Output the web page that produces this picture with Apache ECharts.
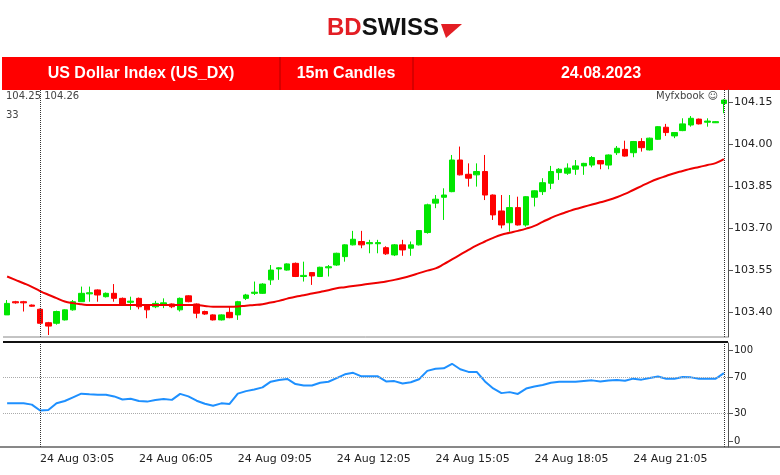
<!DOCTYPE html>
<html>
<head>
<meta charset="utf-8">
<script src="https://cdn.jsdelivr.net/npm/echarts@6/dist/echarts.min.js"></script>
<style>html,body{margin:0;padding:0;background:#fff}#main{width:780px;height:475px}</style>
</head>
<body>
<div id="main"></div>
<script>
// 15m candles, 24 Aug 02:05 .. 23:50 ; each [open, close, low, high]
var times = [];
for (var i = 0; i < 88; i++) {
    var m = 2 * 60 + 5 + i * 15;
    times.push('24 Aug ' + String(Math.floor(m / 60)).padStart(2, '0') + ':' + String(m % 60).padStart(2, '0'));
}
var candles = [
    [103.390,103.431,103.390,103.443],[103.437,103.433,103.430,103.440],[103.437,103.433,103.402,103.440],[103.425,103.421,103.419,103.427],
    [103.410,103.360,103.360,103.412],[103.362,103.350,103.318,103.365],[103.360,103.402,103.355,103.405],[103.372,103.408,103.370,103.410],
    [103.408,103.437,103.405,103.443],[103.437,103.467,103.437,103.491],[103.465,103.469,103.437,103.491],[103.479,103.461,103.437,103.481],
    [103.455,103.467,103.452,103.470],[103.467,103.449,103.437,103.500],[103.449,103.429,103.427,103.452],[103.435,103.439,103.408,103.455],
    [103.449,103.419,103.410,103.452],[103.425,103.408,103.378,103.427],[103.419,103.431,103.414,103.440],[103.429,103.433,103.414,103.449],
    [103.429,103.419,103.414,103.431],[103.408,103.449,103.402,103.452],[103.458,103.437,103.435,103.460],[103.429,103.396,103.378,103.431],
    [103.402,103.393,103.390,103.405],[103.390,103.372,103.370,103.392],[103.372,103.390,103.370,103.392],[103.399,103.380,103.378,103.419],
    [103.390,103.437,103.372,103.440],[103.449,103.461,103.443,103.465],[103.467,103.471,103.461,103.509],[103.467,103.500,103.465,103.503],
    [103.515,103.550,103.497,103.568],[103.554,103.558,103.515,103.560],[103.550,103.572,103.548,103.574],[103.574,103.527,103.525,103.577],
    [103.527,103.531,103.509,103.580],[103.541,103.529,103.497,103.543],[103.527,103.560,103.525,103.562],[103.558,103.562,103.527,103.568],
    [103.568,103.610,103.565,103.612],[103.598,103.640,103.580,103.642],[103.640,103.660,103.638,103.690],[103.652,103.640,103.628,103.690],
    [103.644,103.648,103.610,103.658],[103.644,103.648,103.610,103.658],[103.630,103.608,103.604,103.635],[103.604,103.640,103.600,103.643],
    [103.640,103.622,103.601,103.658],[103.628,103.640,103.601,103.652],[103.640,103.691,103.638,103.693],[103.684,103.783,103.680,103.787],
    [103.789,103.803,103.771,103.818],[103.810,103.818,103.729,103.842],[103.830,103.943,103.828,103.961],[103.943,103.890,103.888,103.991],
    [103.892,103.878,103.848,103.931],[103.890,103.902,103.848,103.931],[103.902,103.818,103.800,103.961],[103.818,103.747,103.729,103.820],
    [103.761,103.711,103.699,103.818],[103.719,103.773,103.687,103.818],[103.773,103.711,103.709,103.812],[103.711,103.812,103.705,103.814],
    [103.810,103.833,103.777,103.835],[103.830,103.862,103.818,103.878],[103.860,103.902,103.839,103.922],[103.898,103.910,103.872,103.914],
    [103.896,103.914,103.890,103.931],[103.910,103.922,103.890,103.943],[103.922,103.931,103.890,103.933],[103.925,103.952,103.917,103.957],
    [103.941,103.929,103.910,103.943],[103.925,103.961,103.910,103.963],[103.969,103.985,103.961,103.993],[103.981,103.957,103.955,104.012],
    [103.969,104.009,103.953,104.011],[104.009,103.987,103.973,104.021],[103.979,104.021,103.977,104.023],[104.017,104.062,104.015,104.064],
    [104.060,104.041,104.029,104.072],[104.029,104.041,104.021,104.043],[104.048,104.072,104.046,104.092],[104.068,104.092,104.062,104.100],
    [104.089,104.072,104.070,104.091],[104.078,104.082,104.062,104.092],[104.076,104.080,104.075,104.082],[104.145,104.157,104.110,104.160]
];
var maLine = [103.527,103.515,103.503,103.490,103.475,103.462,103.450,103.438,103.432,103.428,103.425,103.425,103.425,103.425,103.425,103.425,
    103.425,103.425,103.425,103.425,103.425,103.425,103.425,103.425,103.422,103.419,103.419,103.419,103.420,103.423,103.425,103.428,
    103.434,103.440,103.448,103.455,103.460,103.466,103.472,103.478,103.485,103.489,103.493,103.497,103.501,103.505,103.509,103.515,
    103.522,103.530,103.539,103.548,103.556,103.571,103.588,103.605,103.622,103.638,103.652,103.665,103.676,103.683,103.690,103.698,
    103.708,103.722,103.736,103.748,103.758,103.768,103.776,103.784,103.792,103.800,103.810,103.822,103.836,103.850,103.864,103.876,
    103.886,103.896,103.904,103.912,103.918,103.925,103.932,103.946];
var rsi = [41.4,41.4,41.4,40,33.6,34,41.5,44,48,52,51.3,50.8,50.8,49,45.6,46.5,44,43.3,45,46.2,45.2,51.8,49,44.3,40.9,38.8,41.4,40.8,
    52.1,54.8,56.6,58.9,65.2,67,68.2,62.5,60.9,60.9,64,65.1,69,73.2,74.9,71,71,71,65.4,65.8,63.2,64.5,67.8,77,79.4,79.8,84.8,78.8,
    75.9,75.9,65.4,57.8,52.6,53.7,51.7,57.6,59.8,61.5,64,65.1,65.1,65.1,65.9,66.6,65.3,66.5,67,66.1,68.5,67.4,69.3,70.8,68.4,68.4,
    70.4,69.9,68.4,68.4,68.4,74.5];
var priceTicks = [103.40, 103.55, 103.70, 103.85, 104.00, 104.15];
var rsiTicks = [0, 30, 70, 100];

var chart = echarts.init(document.getElementById('main'));
var axFont = {fontFamily: 'DejaVu Sans', fontSize: 10, color: '#222'};
var option = {
    backgroundColor: '#fff',
    animation: false,
    graphic: [
        {type: 'text', left: 327, top: 16, style: {text: '{r|BD}{k|SWISS}',
            rich: {r: {font: 'bold 24px Liberation Sans', fill: '#e31e24'}, k: {font: 'bold 24px Liberation Sans', fill: '#111'}}}},
        {type: 'polygon', shape: {points: [[441, 24], [462, 24], [446, 38]]}, style: {fill: '#e31e24'}},
        {type: 'rect', shape: {x: 2, y: 57, width: 778, height: 33}, style: {fill: '#ff0000'}},
        {type: 'line', shape: {x1: 280, y1: 57, x2: 280, y2: 90}, style: {stroke: '#b00000', lineWidth: 1}},
        {type: 'line', shape: {x1: 413, y1: 57, x2: 413, y2: 90}, style: {stroke: '#b00000', lineWidth: 1}},
        {type: 'text', x: 141, y: 74, style: {text: 'US Dollar Index (US_DX)', font: 'bold 16px Liberation Sans', fill: '#fff', align: 'center', verticalAlign: 'middle'}},
        {type: 'text', x: 346, y: 74, style: {text: '15m Candles', font: 'bold 16px Liberation Sans', fill: '#fff', align: 'center', verticalAlign: 'middle'}},
        {type: 'text', x: 601, y: 74, style: {text: '24.08.2023', font: 'bold 16px Liberation Sans', fill: '#fff', align: 'center', verticalAlign: 'middle'}},
        {type: 'text', left: 6, top: 91, style: {text: '104.25 104.26', font: '10px DejaVu Sans', fill: '#444'}},
        {type: 'text', left: 6, top: 110, style: {text: '33', font: '10px DejaVu Sans', fill: '#444'}},
        {type: 'text', left: 656, top: 91, style: {text: 'Myfxbook ☺', font: '10px DejaVu Sans', fill: '#444'}},
        {type: 'line', shape: {x1: 3, y1: 337, x2: 728, y2: 337}, style: {stroke: '#888', lineWidth: 1}},
        {type: 'line', shape: {x1: 3, y1: 342, x2: 728, y2: 342}, style: {stroke: '#111', lineWidth: 2}},
        {type: 'line', shape: {x1: 0, y1: 447, x2: 780, y2: 447}, style: {stroke: '#111', lineWidth: 1}}
    ],
    grid: [
        {left: 3, right: 52, top: 90, height: 247},
        {left: 3, right: 52, top: 343, height: 104}
    ],
    xAxis: [
        {type: 'category', gridIndex: 0, data: times, boundaryGap: true, axisLine: {show: false}, axisTick: {show: false}, axisLabel: {show: false}},
        {type: 'category', gridIndex: 1, data: times, boundaryGap: true, axisLine: {show: false}, axisTick: {show: false},
            axisLabel: Object.assign({interval: function (i) { return (i - 4) % 12 === 0; }, align: 'left', margin: 7}, axFont, {fontSize: 11})}
    ],
    yAxis: [
        {type: 'value', gridIndex: 0, position: 'right', min: 103.311, max: 104.193, splitLine: {show: false},
            axisLine: {show: true, lineStyle: {color: '#555'}}, axisTick: {show: true, customValues: priceTicks, lineStyle: {color: '#555'}},
            axisLabel: Object.assign({customValues: priceTicks, formatter: function (v) { return v.toFixed(2); }, margin: 6}, axFont, {fontSize: 11})},
        {type: 'value', gridIndex: 1, position: 'right', min: -6.5, max: 107.6, splitLine: {show: false},
            axisLine: {show: true, lineStyle: {color: '#555'}}, axisTick: {show: true, customValues: rsiTicks, lineStyle: {color: '#555'}},
            axisLabel: Object.assign({customValues: rsiTicks, margin: 6}, axFont)}
    ],
    series: [
        {type: 'candlestick', xAxisIndex: 0, yAxisIndex: 0, barWidth: 6, data: candles,
            itemStyle: {color: '#00e600', color0: '#ff0000', borderColor: '#00e600', borderColor0: '#ff0000', borderWidth: 1},
            markLine: {symbol: 'none', silent: true, label: {show: false}, lineStyle: {color: '#333', type: 'dotted', width: 1},
                data: [{xAxis: 4}, {xAxis: 87}]}},
        {type: 'line', xAxisIndex: 0, yAxisIndex: 0, data: maLine, smooth: true, showSymbol: false, lineStyle: {color: '#ee0000', width: 2}},
        {type: 'line', xAxisIndex: 1, yAxisIndex: 1, data: rsi, showSymbol: false, lineStyle: {color: '#1e90ff', width: 2},
            markLine: {symbol: 'none', silent: true, label: {show: false}, lineStyle: {color: '#aaa', type: 'dotted', width: 1},
                data: [{yAxis: 30}, {yAxis: 70}]}},
        {type: 'line', xAxisIndex: 1, yAxisIndex: 1, data: [], markLine: {symbol: 'none', silent: true, label: {show: false},
            lineStyle: {color: '#333', type: 'dotted', width: 1}, data: [{xAxis: 4}, {xAxis: 87}]}}
    ]
};
chart.setOption(option);
</script>
</body>
</html>
